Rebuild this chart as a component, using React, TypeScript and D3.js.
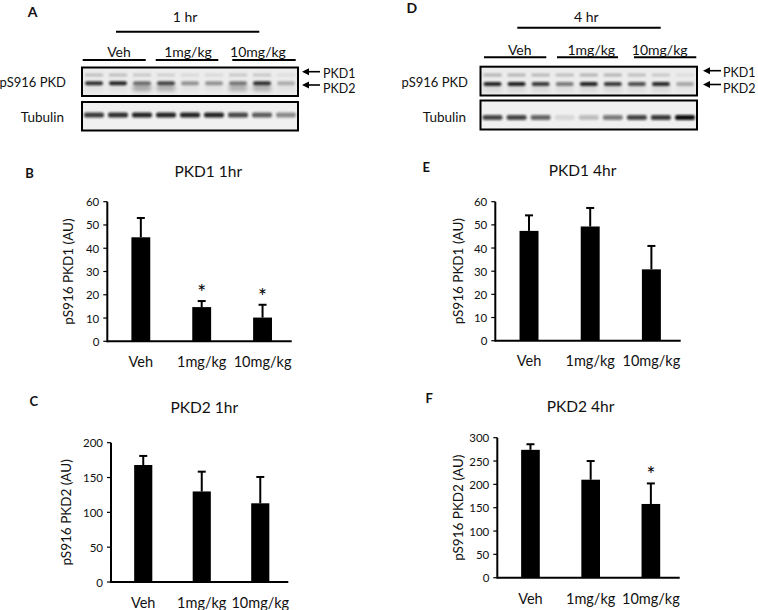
import React from "react";
import * as d3 from "d3";

// ---------------- DATA ----------------
const CATEGORIES = ["Veh", "1mg/kg", "10mg/kg"];

const PKD1_1HR_MEAN = [44.7, 14.7, 10.2];
const PKD1_1HR_SEM = [8.3, 2.6, 5.5];
const PKD1_1HR_SIG = [false, true, true];

const PKD1_4HR_MEAN = [47.4, 49.3, 30.8];
const PKD1_4HR_SEM = [6.7, 8.0, 10.1];
const PKD1_4HR_SIG = [false, false, false];

const PKD2_1HR_MEAN = [168, 130, 113];
const PKD2_1HR_SEM = [13, 28.4, 37.8];
const PKD2_1HR_SIG = [false, false, false];

const PKD2_4HR_MEAN = [274, 210, 158];
const PKD2_4HR_SEM = [12, 40, 44];
const PKD2_4HR_SIG = [false, false, true];

const PKD1_TICKS = [0, 10, 20, 30, 40, 50, 60];
const PKD2_1HR_TICKS = [0, 50, 100, 150, 200];
const PKD2_4HR_TICKS = [0, 50, 100, 150, 200, 250, 300];

// western blot band intensities (0..1), 9 lanes
const BLOT_1HR_PKD1 = [0.25, 0.25, 0.2, 0.15, 0.1, 0.1, 0.2, 0.2, 0.08];
const BLOT_1HR_PKD2 = [0.85, 0.9, 0.55, 0.75, 0.4, 0.4, 0.5, 0.85, 0.28];
const BLOT_1HR_SMEAR = [0.05, 0.05, 0.4, 0.35, 0.05, 0.05, 0.35, 0.35, 0.05];
const BLOT_1HR_TUB = [0.8, 0.85, 0.9, 0.9, 0.9, 0.9, 0.75, 0.65, 0.45];

const BLOT_4HR_PKD1 = [0.3, 0.3, 0.28, 0.25, 0.3, 0.3, 0.25, 0.2, 0.08];
const BLOT_4HR_PKD2 = [0.9, 0.92, 0.8, 0.5, 0.9, 0.8, 0.7, 0.88, 0.3];
const BLOT_4HR_SMEAR = [0.1, 0.1, 0.1, 0.08, 0.1, 0.1, 0.08, 0.1, 0.03];
const BLOT_4HR_TUB = [0.75, 0.75, 0.6, 0.1, 0.22, 0.5, 0.75, 0.8, 1.0];

const FONT = "Lato, 'Open Sans', sans-serif";

// ---------------- BAR PANEL ----------------
interface BarLayout {
  letter: string; lx: number; ly: number;
  title: string; tx: number; ty: number;
  axisX: number; axisEnd: number; yTop: number; yZero: number;
  max: number; ticks: number[];
  ylabel: string; ylx: number; catY: number;
}

function BarPanel({ L, mean, sem, sig }: { L: BarLayout; mean: number[]; sem: number[]; sig: boolean[] }) {
  const y = d3.scaleLinear().domain([0, L.max]).range([L.yZero, L.yTop]);
  const x = d3
    .scaleBand<string>()
    .domain(CATEGORIES)
    .range([L.axisX, L.axisEnd])
    .paddingInner(0.69)
    .paddingOuter(0.36)
    .align(0.55);
  const bw = x.bandwidth();
  return (
    <g fontFamily={FONT} fill="#111">
      <text x={L.lx} y={L.ly} fontSize={13} fontWeight="bold" textAnchor="middle" dominantBaseline="central">{L.letter}</text>
      <text x={L.tx} y={L.ty} fontSize={15.5} textAnchor="middle">{L.title}</text>
      <text
        transform={`translate(${L.ylx},${(L.yTop + L.yZero) / 2}) rotate(-90)`}
        fontSize={13.5}
        textAnchor="middle"
        dominantBaseline="central"
      >{L.ylabel}</text>
      {L.ticks.map((t) => (
        <g key={t}>
          <line x1={L.axisX - 4} x2={L.axisX} y1={y(t)} y2={y(t)} stroke="#000" strokeWidth={1.2} />
          <text x={L.axisX - 8} y={y(t)} fontSize={11.5} textAnchor="end" dominantBaseline="central">{t}</text>
        </g>
      ))}
      {CATEGORIES.map((c, i) => {
        const cx = (x(c) as number) + bw / 2;
        const top = y(mean[i] + sem[i]);
        return (
          <g key={c}>
            <rect x={x(c)} y={y(mean[i])} width={bw} height={L.yZero - y(mean[i])} fill="#000" />
            <line x1={cx} x2={cx} y1={y(mean[i])} y2={top} stroke="#000" strokeWidth={2} />
            <line x1={cx - 4} x2={cx + 4} y1={top} y2={top} stroke="#000" strokeWidth={2} />
            {sig[i] && (
              <text x={cx} y={top - 1} fontSize={21} textAnchor="middle" fill="#000">*</text>
            )}
            <text x={cx} y={L.catY} fontSize={14.5} textAnchor="middle" dominantBaseline="central">{c}</text>
          </g>
        );
      })}
      <line x1={L.axisX} x2={L.axisX} y1={L.yTop} y2={L.yZero + 1} stroke="#000" strokeWidth={2} />
      <line x1={L.axisX} x2={L.axisEnd} y1={L.yZero} y2={L.yZero} stroke="#000" strokeWidth={2} />
    </g>
  );
}

// ---------------- BLOT PANEL ----------------
interface BlotLayout {
  letter: string; lx: number; ly: number;
  time: string; timeX: number; timeY: number;
  timeLine: [number, number, number];
  groupY: number; groupX: number[];
  underlines: [number, number][]; underY: number;
  box: [number, number]; pkd: [number, number]; tub: [number, number];
  labelX: number; pkdLabelY: number; tubLabelY: number;
  arrowTip: number; arrowTail: number; arrow1Y: number; arrow2Y: number;
  textX: number; text1Y: number; text2Y: number;
  band: { pkd1: number; pkd2: number; smear: number; tub: number };
}

function Arrow({ tip, tail, y }: { tip: number; tail: number; y: number }) {
  return (
    <g>
      <line x1={tip + 5} x2={tail} y1={y} y2={y} stroke="#000" strokeWidth={1.6} />
      <path d={`M${tip},${y} L${tip + 7},${y - 3.5} L${tip + 7},${y + 3.5} Z`} fill="#000" />
    </g>
  );
}

function BlotPanel({ L, pkd1, pkd2, smear, tub, id }: {
  L: BlotLayout; pkd1: number[]; pkd2: number[]; smear: number[]; tub: number[]; id: string;
}) {
  const lanes = d3.scalePoint<number>().domain(d3.range(9)).range(L.box).padding(0.5);
  const bandW = 18;
  return (
    <g fontFamily={FONT} fill="#111">
      <defs>
        <filter id={`blur-${id}`} x="-50%" y="-100%" width="200%" height="300%">
          <feGaussianBlur stdDeviation={1.3} />
        </filter>
        <filter id={`blur2-${id}`} x="-50%" y="-100%" width="200%" height="300%">
          <feGaussianBlur stdDeviation={2.2} />
        </filter>
        <clipPath id={`clipP-${id}`}>
          <rect x={L.box[0]} y={L.pkd[0]} width={L.box[1] - L.box[0]} height={L.pkd[1] - L.pkd[0]} />
        </clipPath>
        <clipPath id={`clipT-${id}`}>
          <rect x={L.box[0]} y={L.tub[0]} width={L.box[1] - L.box[0]} height={L.tub[1] - L.tub[0]} />
        </clipPath>
      </defs>
      <text x={L.lx} y={L.ly} fontSize={14} fontWeight="bold" textAnchor="middle" dominantBaseline="central">{L.letter}</text>
      <text x={L.timeX} y={L.timeY} fontSize={14} textAnchor="middle" dominantBaseline="central">{L.time}</text>
      <line x1={L.timeLine[0]} x2={L.timeLine[1]} y1={L.timeLine[2]} y2={L.timeLine[2]} stroke="#000" strokeWidth={2} />
      {CATEGORIES.map((c, i) => (
        <g key={c}>
          <text x={L.groupX[i]} y={L.groupY} fontSize={14} textAnchor="middle" dominantBaseline="central">{c}</text>
          <line x1={L.underlines[i][0]} x2={L.underlines[i][1]} y1={L.underY} y2={L.underY} stroke="#000" strokeWidth={2} />
        </g>
      ))}
      {/* pS916 PKD blot */}
      <rect x={L.box[0]} y={L.pkd[0]} width={L.box[1] - L.box[0]} height={L.pkd[1] - L.pkd[0]} fill="#ececec" />
      <g clipPath={`url(#clipP-${id})`}>
        {smear.map((v, i) => (
          <rect key={`s${i}`} x={(lanes(i) as number) - bandW / 2} y={L.band.smear - 3} width={bandW} height={6}
            fill="#333" opacity={v} filter={`url(#blur2-${id})`} />
        ))}
        {pkd1.map((v, i) => (
          <rect key={`a${i}`} x={(lanes(i) as number) - bandW / 2} y={L.band.pkd1 - 1.5} width={bandW} height={3}
            fill="#333" opacity={v} filter={`url(#blur-${id})`} />
        ))}
        {pkd2.map((v, i) => (
          <rect key={`b${i}`} x={(lanes(i) as number) - bandW / 2} y={L.band.pkd2 - 2} width={bandW} height={4}
            fill="#111" opacity={v} filter={`url(#blur-${id})`} rx={2} />
        ))}
      </g>
      <rect x={L.box[0]} y={L.pkd[0]} width={L.box[1] - L.box[0]} height={L.pkd[1] - L.pkd[0]} fill="none" stroke="#000" strokeWidth={2} />
      {/* Tubulin blot */}
      <rect x={L.box[0]} y={L.tub[0]} width={L.box[1] - L.box[0]} height={L.tub[1] - L.tub[0]} fill="#f0f0f0" />
      <g clipPath={`url(#clipT-${id})`}>
        {tub.map((v, i) => (
          <rect key={`t${i}`} x={(lanes(i) as number) - bandW / 2 - 1} y={L.band.tub - 2.5} width={bandW + 2} height={5}
            fill="#111" opacity={v} filter={`url(#blur-${id})`} rx={2} />
        ))}
      </g>
      <rect x={L.box[0]} y={L.tub[0]} width={L.box[1] - L.box[0]} height={L.tub[1] - L.tub[0]} fill="none" stroke="#000" strokeWidth={2} />
      <text x={L.labelX} y={L.pkdLabelY} fontSize={13} textAnchor="end" dominantBaseline="central">pS916 PKD</text>
      <text x={L.labelX - 2} y={L.tubLabelY} fontSize={13.5} textAnchor="end" dominantBaseline="central">Tubulin</text>
      <Arrow tip={L.arrowTip} tail={L.arrowTail} y={L.arrow1Y} />
      <Arrow tip={L.arrowTip} tail={L.arrowTail} y={L.arrow2Y} />
      <text x={L.textX} y={L.text1Y} fontSize={12.5} dominantBaseline="central">PKD1</text>
      <text x={L.textX} y={L.text2Y} fontSize={12.5} dominantBaseline="central">PKD2</text>
    </g>
  );
}

// ---------------- LAYOUTS ----------------
const LAYOUT_A: BlotLayout = {
  letter: "A", lx: 32.5, ly: 11.3,
  time: "1 hr", timeX: 185, timeY: 16.7, timeLine: [116, 259.3, 31.7],
  groupY: 51.7, groupX: [119, 188, 258],
  underlines: [[82.7, 145.7], [155.7, 218.3], [232.3, 295.7]], underY: 60,
  box: [82, 298], pkd: [67.5, 96], tub: [102, 130.5],
  labelX: 66, pkdLabelY: 81.7, tubLabelY: 116.5,
  arrowTip: 302, arrowTail: 320, arrow1Y: 71.7, arrow2Y: 85,
  textX: 323, text1Y: 73.5, text2Y: 88.8,
  band: { pkd1: 75, pkd2: 83.3, smear: 88, tub: 115 },
};

const LAYOUT_D: BlotLayout = {
  letter: "D", lx: 411.8, ly: 7.2,
  time: "4 hr", timeX: 586.3, timeY: 16, timeLine: [517.3, 660.7, 27.7],
  groupY: 49.3, groupX: [519.7, 591.3, 659.7],
  underlines: [[484, 546.3], [557, 618], [634, 696.3]], underY: 57.3,
  box: [480.5, 697], pkd: [66.7, 95.5], tub: [100.5, 129.5],
  labelX: 468, pkdLabelY: 81.7, tubLabelY: 116.7,
  arrowTip: 703, arrowTail: 721, arrow1Y: 70.7, arrow2Y: 84.5,
  textX: 723, text1Y: 72.8, text2Y: 88.3,
  band: { pkd1: 75, pkd2: 84, smear: 89, tub: 117.5 },
};

const LAYOUT_B: BarLayout = {
  letter: "B", lx: 29.5, ly: 172.5, title: "PKD1 1hr", tx: 208.3, ty: 176.5,
  axisX: 107.3, axisEnd: 291.7, yTop: 201.7, yZero: 341.3, max: 60, ticks: PKD1_TICKS,
  ylabel: "pS916 PKD1 (AU)", ylx: 68.3, catY: 361.7,
};
const LAYOUT_E: BarLayout = {
  letter: "E", lx: 426.3, ly: 167.2, title: "PKD1 4hr", tx: 582.5, ty: 176,
  axisX: 495.3, axisEnd: 680.7, yTop: 201.7, yZero: 340.7, max: 60, ticks: PKD1_TICKS,
  ylabel: "pS916 PKD1 (AU)", ylx: 458, catY: 360,
};
const LAYOUT_C: BarLayout = {
  letter: "C", lx: 33.8, ly: 401.3, title: "PKD2 1hr", tx: 204.3, ty: 413.3,
  axisX: 111, axisEnd: 288.3, yTop: 442.7, yZero: 582, max: 200, ticks: PKD2_1HR_TICKS,
  ylabel: "pS916 PKD2 (AU)", ylx: 66, catY: 602,
};
const LAYOUT_F: BarLayout = {
  letter: "F", lx: 429.2, ly: 397.5, title: "PKD2 4hr", tx: 580.5, ty: 411.7,
  axisX: 497.3, axisEnd: 679.7, yTop: 437.7, yZero: 577.7, max: 300, ticks: PKD2_4HR_TICKS,
  ylabel: "pS916 PKD2 (AU)", ylx: 458, catY: 598.3,
};

export default function App() {
  return (
    <svg
      width={758}
      height={610}
      viewBox="0 0 758 610"
      style={{ position: "absolute", left: 0, top: 0, background: "#fff" }}
    >
      <rect width={758} height={610} fill="#fff" />
      <BlotPanel L={LAYOUT_A} pkd1={BLOT_1HR_PKD1} pkd2={BLOT_1HR_PKD2} smear={BLOT_1HR_SMEAR} tub={BLOT_1HR_TUB} id="a" />
      <BlotPanel L={LAYOUT_D} pkd1={BLOT_4HR_PKD1} pkd2={BLOT_4HR_PKD2} smear={BLOT_4HR_SMEAR} tub={BLOT_4HR_TUB} id="d" />
      <BarPanel L={LAYOUT_B} mean={PKD1_1HR_MEAN} sem={PKD1_1HR_SEM} sig={PKD1_1HR_SIG} />
      <BarPanel L={LAYOUT_E} mean={PKD1_4HR_MEAN} sem={PKD1_4HR_SEM} sig={PKD1_4HR_SIG} />
      <BarPanel L={LAYOUT_C} mean={PKD2_1HR_MEAN} sem={PKD2_1HR_SEM} sig={PKD2_1HR_SIG} />
      <BarPanel L={LAYOUT_F} mean={PKD2_4HR_MEAN} sem={PKD2_4HR_SEM} sig={PKD2_4HR_SIG} />
    </svg>
  );
}
